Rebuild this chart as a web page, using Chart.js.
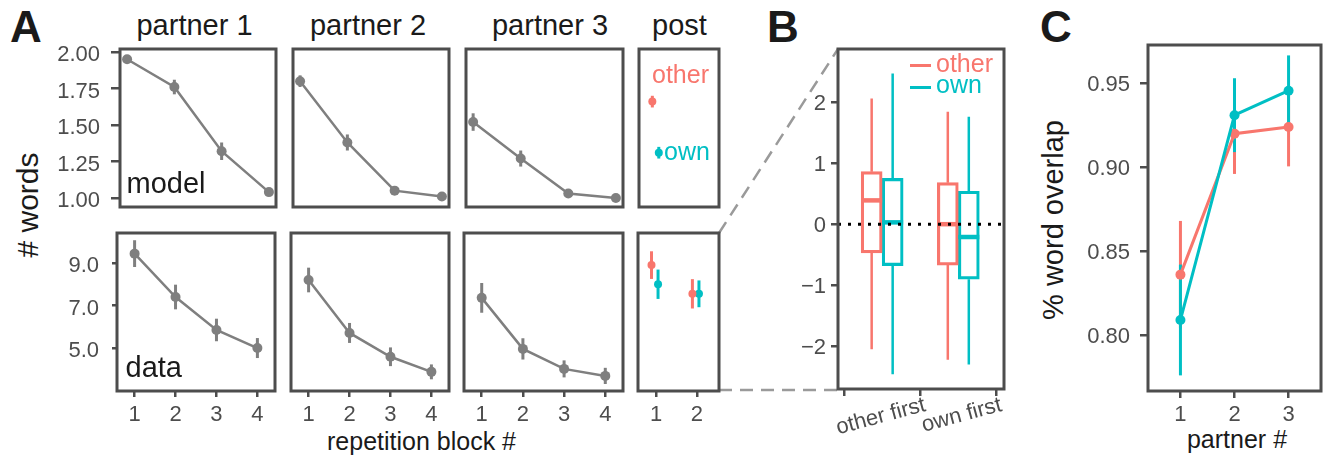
<!DOCTYPE html>
<html>
<head>
<meta charset="utf-8">
<script src="https://cdn.jsdelivr.net/npm/chart.js@4.4.1/dist/chart.umd.min.js"></script>
<style>
  body { margin: 0; width: 1323px; height: 456px; position: relative; overflow: hidden; background: #fff;
         font-family: "Liberation Sans", Arial, Helvetica, sans-serif; }
  canvas { position: absolute; }
  .t { position: absolute; white-space: nowrap; line-height: 1; color: #1a1a1a; }
  .c { transform: translateX(-50%); }
  .v { transform: translate(-50%, -50%) rotate(-90deg); }
  .key { position: absolute; width: 21px; height: 3px; }
</style>
</head>
<body>
<svg width="1323" height="456" style="position:absolute;left:0;top:0">
  <line x1="719" y1="233" x2="838" y2="49" stroke="#9a9a9a" stroke-width="2.5" stroke-dasharray="13 8"/>
  <line x1="719" y1="390" x2="838" y2="390" stroke="#9a9a9a" stroke-width="2.5" stroke-dasharray="13 8"/>
</svg>

<div class="t" style="left:10px;top:4.8px;font-size:44px;font-weight:bold">A</div>
<div class="t" style="left:767px;top:4.8px;font-size:44px;font-weight:bold">B</div>
<div class="t" style="left:1040px;top:4.8px;font-size:44px;font-weight:bold">C</div>

<div class="t c" style="left:194.5px;top:10.5px;font-size:29px">partner 1</div>
<div class="t c" style="left:368px;top:10.5px;font-size:29px">partner 2</div>
<div class="t c" style="left:550px;top:10.5px;font-size:29px">partner 3</div>
<div class="t c" style="left:679.5px;top:10.5px;font-size:29px">post</div>

<div class="t v" style="left:28px;top:205px;font-size:30px">#&nbsp;words</div>
<div class="t c" style="left:421.5px;top:428.8px;font-size:25px">repetition block #</div>
<div class="t v" style="left:1053px;top:220px;font-size:29px">% word overlap</div>
<div class="t c" style="left:1237px;top:426.8px;font-size:25px">partner #</div>

<script>
// panel A : number of words per repetition block
const blocks = [1, 2, 3, 4];
const modelTicks = [1.00, 1.25, 1.50, 1.75, 2.00];
const dataTicks = [5, 7, 9];

const modelP1 = [1.95, 1.76, 1.32, 1.04];
const modelP2 = [1.80, 1.38, 1.05, 1.01];
const modelP3 = [1.52, 1.27, 1.03, 1.00];
const modelErrP1 = [0.02, 0.05, 0.06, 0.02];
const modelErrP2 = [0.04, 0.055, 0.02, 0.01];
const modelErrP3 = [0.06, 0.055, 0.015, 0.015];

const dataP1 = [9.44, 7.40, 5.85, 5.00];
const dataP2 = [8.20, 5.71, 4.59, 3.88];
const dataP3 = [7.36, 4.96, 4.02, 3.69];
const dataErrP1 = [0.63, 0.58, 0.53, 0.47];
const dataErrP2 = [0.58, 0.47, 0.44, 0.35];
const dataErrP3 = [0.70, 0.50, 0.40, 0.38];

// post phase
const postBlocks = [1, 2];
const postModelOther = [1.66];
const postModelOtherErr = [0.04];
const postModelOwn = [1.31];
const postModelOwnErr = [0.04];
const postDataOther = [8.90, 7.55];
const postDataOtherErr = [0.65, 0.69];
const postDataOwn = [8.00, 7.55];
const postDataOwnErr = [0.69, 0.63];

// panel B : boxplots
const groups = ['other first', 'own first'];
const groupPos = [1, 2];
const boxTicks = [-2, -1, 0, 1, 2];
const otherLo = [-2.05, -2.22];
const otherQ1 = [-0.47, -0.67];
const otherMed = [0.39, 0.00];
const otherQ3 = [0.86, 0.68];
const otherHi = [2.06, 1.84];
const ownLo = [-2.46, -2.30];
const ownQ1 = [-0.68, -0.90];
const ownMed = [0.03, -0.21];
const ownQ3 = [0.75, 0.54];
const ownHi = [2.47, 1.76];

// panel C : word overlap by partner
const partners = [1, 2, 3];
const overlapTicks = [0.80, 0.85, 0.90, 0.95];
const overlapOther = [0.836, 0.920, 0.924];
const overlapOtherErr = [0.032, 0.024, 0.0235];
const overlapOwn = [0.809, 0.931, 0.9456];
const overlapOwnErr = [0.033, 0.022, 0.021];

const FONT = '"Liberation Sans", Arial, Helvetica, sans-serif';
const INK = '#4d4d4d';
const GRAY = '#7f7f7f';
const RED = '#F8766D';
const TEAL = '#00BFC4';

// cadre autour de la zone de tracé
const frame = {
    id: 'frame',
    afterDraw(chart) {
        const a = chart.chartArea, ctx = chart.ctx;
        ctx.save();
        ctx.strokeStyle = INK;
        ctx.lineWidth = 3;
        ctx.strokeRect(a.left, a.top, a.right - a.left, a.bottom - a.top);
        ctx.restore();
    }
};

// barres d'erreur verticales (dataset.err = demi-largeur)
const errBars = {
    id: 'errBars',
    beforeDatasetsDraw(chart) {
        const ctx = chart.ctx, ys = chart.scales.y;
        chart.data.datasets.forEach((ds, i) => {
            if (!ds.err) return;
            const meta = chart.getDatasetMeta(i);
            ctx.save();
            ctx.strokeStyle = ds.borderColor;
            ctx.lineWidth = ds.errWidth || 3;
            meta.data.forEach((pt, j) => {
                const v = ds.data[j].y;
                ctx.beginPath();
                ctx.moveTo(pt.x, ys.getPixelForValue(v - ds.err[j]));
                ctx.lineTo(pt.x, ys.getPixelForValue(v + ds.err[j]));
                ctx.stroke();
            });
            ctx.restore();
        });
    }
};

// moustaches, médianes et ligne zéro des boxplots
const boxParts = {
    id: 'boxParts',
    afterDatasetsDraw(chart) {
        const ctx = chart.ctx, ys = chart.scales.y, a = chart.chartArea;
        chart.data.datasets.forEach((ds, i) => {
            if (!ds.stats) return;
            const meta = chart.getDatasetMeta(i);
            ctx.save();
            ctx.strokeStyle = ds.borderColor;
            meta.data.forEach((bar, j) => {
                const [q1, q3] = ds.data[j].y;
                ctx.lineWidth = 2.5;
                ctx.beginPath();
                ctx.moveTo(bar.x, ys.getPixelForValue(ds.stats.hi[j]));
                ctx.lineTo(bar.x, ys.getPixelForValue(q3));
                ctx.moveTo(bar.x, ys.getPixelForValue(q1));
                ctx.lineTo(bar.x, ys.getPixelForValue(ds.stats.lo[j]));
                ctx.stroke();
                const m = ys.getPixelForValue(ds.stats.med[j]);
                ctx.lineWidth = 4.5;
                ctx.beginPath();
                ctx.moveTo(bar.x - bar.width / 2, m);
                ctx.lineTo(bar.x + bar.width / 2, m);
                ctx.stroke();
            });
            ctx.restore();
        });
        const y0 = ys.getPixelForValue(0);
        ctx.save();
        ctx.setLineDash([3, 7]);
        ctx.lineWidth = 3;
        ctx.strokeStyle = '#000';
        ctx.beginPath();
        ctx.moveTo(a.left, y0);
        ctx.lineTo(a.right, y0);
        ctx.stroke();
        ctx.restore();
    }
};

function axis(min, max, ticks, o) {
    const size = o.show ? o.size : 0;
    return {
        type: 'linear', min, max, offset: false, display: o.show,
        afterBuildTicks: s => { s.ticks = ticks.map(v => ({ value: v })); },
        afterFit: s => {
            if (o.horizontal) s.height = size; else s.width = size;
            // pas de marge automatique pour les étiquettes qui débordent
            s.paddingTop = 0; s.paddingBottom = 0; s.paddingLeft = 0; s.paddingRight = 0;
        },
        grid: { drawOnChartArea: false, drawTicks: true, tickLength: o.tick || 6, color: INK, lineWidth: 2.5 },
        border: { display: false },
        ticks: {
            font: { family: FONT, size: o.font || 22 }, color: INK, padding: o.pad || 5,
            autoSkip: false, maxRotation: o.rot || 0, minRotation: o.rot || 0,
            labelOffset: o.lo || 0, callback: o.fmt
        }
    };
}

function panel(box, o) {
    const padT = 6, padR = o.padR || 6;
    const cv = document.createElement('canvas');
    cv.width = box.r - box.l + o.yW + padR;
    cv.height = box.b - box.t + padT + o.xH;
    cv.style.left = (box.l - o.yW) + 'px';
    cv.style.top = (box.t - padT) + 'px';
    document.body.appendChild(cv);
    return new Chart(cv, {
        type: o.type || 'line',
        data: { datasets: o.datasets },
        options: {
            responsive: false, animation: false, devicePixelRatio: 1,
            layout: { autoPadding: false, padding: { top: padT, right: padR, left: o.y.display ? 0 : o.yW, bottom: o.x.display ? 0 : o.xH } },
            plugins: { legend: { display: false }, tooltip: { enabled: false } },
            scales: { x: o.x, y: o.y }
        },
        plugins: [frame, errBars].concat(o.plugins || [])
    });
}

function series(xs, ys, err, color, extra) {
    return Object.assign({
        data: xs.map((x, i) => ({ x, y: ys[i] })),
        borderColor: color, backgroundColor: color,
        borderWidth: 2.5, pointRadius: 5, pointBorderWidth: 0, err
    }, extra || {});
}

const fmt2 = v => v.toFixed(2);
const fmt1 = v => v.toFixed(1);
const fmtInt = v => String(v);
const fmtMinus = v => (v < 0 ? '\u2212' + Math.abs(v) : String(v));

// ligne du haut : modèle
const topRow = [
    { box: { l: 120, t: 49, r: 276, b: 207 }, m: modelP1, e: modelErrP1, first: true },
    { box: { l: 293, t: 49, r: 449, b: 207 }, m: modelP2, e: modelErrP2 },
    { box: { l: 466, t: 49, r: 623, b: 207 }, m: modelP3, e: modelErrP3 }
];
topRow.forEach(p => {
    panel(p.box, {
        yW: p.first ? 80 : 6, xH: 6,
        x: axis(0.85, 4.15, blocks, { show: false, horizontal: true }),
        y: axis(0.938, 2.0205, modelTicks, { show: !!p.first, size: 80, tick: 9, pad: 11, lo: 3, fmt: fmt2 }),
        datasets: [series(blocks, p.m, p.e, GRAY)]
    });
});

// ligne du bas : données
const bottomRow = [
    { box: { l: 117, t: 233, r: 275, b: 391 }, m: dataP1, e: dataErrP1, first: true },
    { box: { l: 291, t: 233, r: 449, b: 391 }, m: dataP2, e: dataErrP2 },
    { box: { l: 464, t: 233, r: 623, b: 391 }, m: dataP3, e: dataErrP3 }
];
bottomRow.forEach(p => {
    panel(p.box, {
        yW: p.first ? 80 : 6, xH: 40,
        x: axis(0.57, 4.43, blocks, { show: true, horizontal: true, size: 40, tick: 6, pad: 5, fmt: fmtInt }),
        y: axis(2.98, 10.41, dataTicks, { show: !!p.first, size: 80, tick: 5, pad: 13, lo: 3, fmt: fmt1 }),
        datasets: [series(blocks, p.m, p.e, GRAY)]
    });
});

// colonne "post"
const dodgeOther = -0.11, dodgeOwn = 0.05;
panel({ l: 639, t: 49, r: 719, b: 207 }, {
    yW: 6, xH: 6,
    x: axis(0.56, 2.54, postBlocks, { show: false, horizontal: true }),
    y: axis(0.938, 2.0205, modelTicks, { show: false }),
    datasets: [
        series([1 + dodgeOther], postModelOther, postModelOtherErr, RED, { showLine: false, pointRadius: 4 }),
        series([1 + dodgeOwn], postModelOwn, postModelOwnErr, TEAL, { showLine: false, pointRadius: 4 })
    ]
});
panel({ l: 638, t: 233, r: 719, b: 391 }, {
    yW: 6, xH: 40,
    x: axis(0.56, 2.54, postBlocks, { show: true, horizontal: true, size: 40, tick: 6, pad: 5, fmt: fmtInt }),
    y: axis(2.98, 10.41, dataTicks, { show: false }),
    datasets: [
        series(postBlocks.map(b => b + dodgeOther), postDataOther, postDataOtherErr, RED, { showLine: false, pointRadius: 4 }),
        series(postBlocks.map(b => b + dodgeOwn), postDataOwn, postDataOwnErr, TEAL, { showLine: false, pointRadius: 4 })
    ]
});

// panneau B
panel({ l: 838, t: 49, r: 1004, b: 389 }, {
    type: 'bar', yW: 80, xH: 66,
    x: axis(0.42, 2.6, groupPos, { show: true, horizontal: true, size: 66, tick: 7, pad: -4, rot: 15, lo: 43, fmt: v => groups[v - 1] }),
    y: axis(-2.70, 2.87, boxTicks, { show: true, size: 80, tick: 7, pad: 5, lo: 2, fmt: fmtMinus }),
    datasets: [
        {
            data: groupPos.map((x, i) => ({ x, y: [otherQ1[i], otherQ3[i]] })),
            stats: { lo: otherLo, med: otherMed, hi: otherHi },
            borderColor: RED, backgroundColor: 'rgba(0,0,0,0)', borderWidth: 2.5,
            borderSkipped: false, barThickness: 21
        },
        {
            data: groupPos.map((x, i) => ({ x, y: [ownQ1[i], ownQ3[i]] })),
            stats: { lo: ownLo, med: ownMed, hi: ownHi },
            borderColor: TEAL, backgroundColor: 'rgba(0,0,0,0)', borderWidth: 2.5,
            borderSkipped: false, barThickness: 21
        }
    ],
    plugins: [boxParts]
});

// panneau C
panel({ l: 1148, t: 45, r: 1321, b: 391 }, {
    yW: 95, xH: 40, padR: 2,
    x: axis(0.4, 3.6, partners, { show: true, horizontal: true, size: 40, tick: 7, pad: 4, fmt: fmtInt }),
    y: axis(0.7667, 0.9728, overlapTicks, { show: true, size: 95, tick: 8, pad: 10, lo: 2, fmt: fmt2 }),
    datasets: [
        series(partners, overlapOther, overlapOtherErr, RED, { borderWidth: 3, order: 2 }),
        series(partners, overlapOwn, overlapOwnErr, TEAL, { borderWidth: 3, order: 1 })
    ]
});
</script>

<div class="t" style="left:126.5px;top:168.5px;font-size:29px">model</div>
<div class="t" style="left:125.5px;top:352.5px;font-size:29px">data</div>
<div class="t" style="left:652px;top:61.8px;font-size:25px;color:#F8766D">other</div>
<div class="t" style="left:664px;top:138.8px;font-size:25px;color:#00BFC4">own</div>
<div class="key" style="left:910px;top:63.5px;background:#F8766D"></div>
<div class="key" style="left:910px;top:85.5px;background:#00BFC4"></div>
<div class="t" style="left:936px;top:50.8px;font-size:25px;color:#F8766D">other</div>
<div class="t" style="left:936px;top:71.8px;font-size:25px;color:#00BFC4">own</div>
</body>
</html>
